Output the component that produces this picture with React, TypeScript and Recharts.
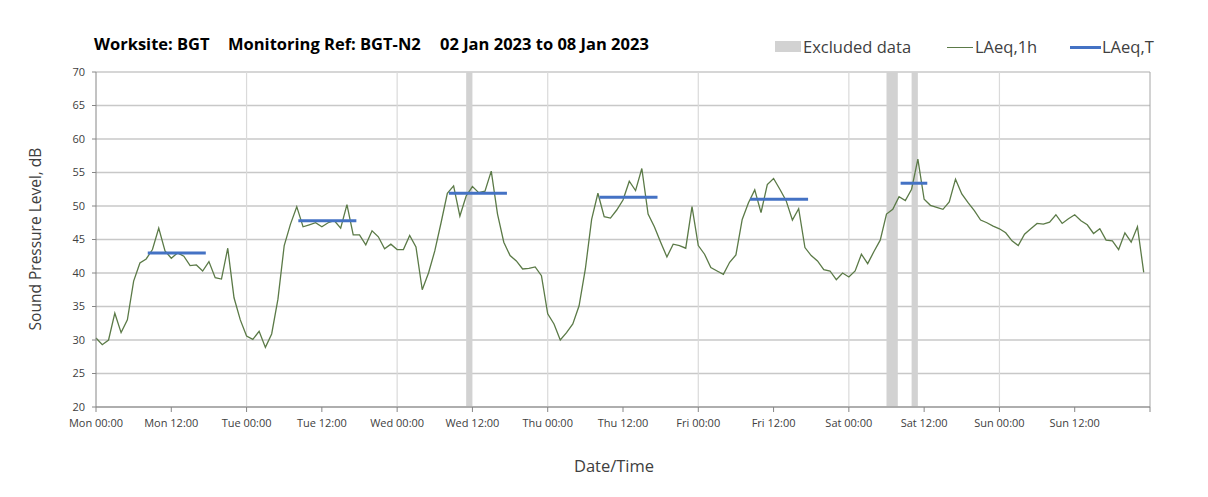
import React from 'react';
import {
  ComposedChart,
  Line,
  XAxis,
  YAxis,
  CartesianGrid,
  ReferenceLine,
  ReferenceArea,
} from 'recharts';

// Hourly LAeq,1h values, Mon 00:00 (index 0) to Sun 23:00 (index 167)
const laeq1h: number[] = [
  30.3, 29.3, 30.0, 34.0, 31.1, 33.0, 38.8, 41.5, 42.1, 43.5, 46.7, 43.3,
  42.2, 43.0, 42.5, 41.1, 41.2, 40.3, 41.7, 39.3, 39.1, 43.7, 36.3, 33.0,
  30.6, 30.1, 31.3, 28.9, 30.9, 36.1, 44.1, 47.3, 49.9, 46.9, 47.2, 47.5,
  46.9, 47.5, 47.8, 46.7, 50.2, 45.7, 45.7, 44.2, 46.3, 45.4, 43.6, 44.3,
  43.5, 43.5, 45.6, 43.9, 37.5, 40.0, 43.3, 47.5, 51.9, 53.0, 48.5, 51.5,
  52.9, 52.0, 52.2, 55.2, 48.8, 44.6, 42.6, 41.8, 40.6, 40.7, 40.9, 39.6,
  33.9, 32.4, 30.0, 31.1, 32.4, 35.1, 40.6, 48.0, 51.9, 48.4, 48.2, 49.4,
  50.9, 53.7, 52.3, 55.6, 48.8, 46.9, 44.6, 42.4, 44.3, 44.1, 43.7, 49.9,
  44.1, 42.8, 40.8, 40.3, 39.8, 41.6, 42.7, 48.0, 50.5, 52.4, 49.0, 53.2,
  54.1, 52.5, 50.8, 47.9, 49.6, 43.8, 42.6, 41.8, 40.5, 40.3, 39.0, 40.0,
  39.4, 40.3, 42.8, 41.4, 43.2, 44.9, 48.8, 49.5, 51.4, 50.8, 52.5, 57.0,
  51.0, 50.1, 49.8, 49.5, 50.6, 54.0, 51.8, 50.5, 49.3, 47.9, 47.5, 47.0,
  46.6, 46.0, 44.8, 44.1, 45.8, 46.6, 47.4, 47.3, 47.6, 48.7, 47.4, 48.1,
  48.7, 47.8, 47.2, 45.9, 46.6, 44.9, 44.8, 43.5, 46.0, 44.6, 46.9, 40.1,
];

// LAeq,T periods (hours from Mon 00:00)
const periodStart: number[] = [8.25, 32.25, 56.25, 80.25, 104.25, 128.25];
const periodEnd: number[] = [17.5, 41.5, 65.5, 89.5, 113.5, 132.5];
const periodValue: number[] = [43.0, 47.8, 51.9, 51.3, 51.0, 53.4];

// Excluded data periods (hours from Mon 00:00)
const excludedStart: number[] = [59, 126, 130];
const excludedEnd: number[] = [60, 127.8, 131];

const xTickLabels: string[] = [
  'Mon 00:00', 'Mon 12:00', 'Tue 00:00', 'Tue 12:00', 'Wed 00:00', 'Wed 12:00',
  'Thu 00:00', 'Thu 12:00', 'Fri 00:00', 'Fri 12:00', 'Sat 00:00', 'Sat 12:00',
  'Sun 00:00', 'Sun 12:00', '',
];
const yTicks: number[] = [20, 25, 30, 35, 40, 45, 50, 55, 60, 65, 70];
const dayLines: number[] = [24, 48, 72, 96, 120, 144];

const titleParts: string[] = ['Worksite: BGT', 'Monitoring Ref: BGT-N2', '02 Jan 2023 to 08 Jan 2023'];
const titleLefts: number[] = [94, 228, 440];

const lineData = laeq1h.map((v, i) => ({ t: i, v }));
const xTicks = xTickLabels.map((_, i) => i * 12);

const FONT = '"Open Sans", Lato, sans-serif';

export default function App() {
  return (
    <div
      style={{
        position: 'absolute',
        left: 0,
        top: 0,
        width: 1208,
        height: 497,
        background: '#fff',
        fontFamily: FONT,
      }}
    >
      <ComposedChart
        width={1208}
        height={497}
        margin={{ top: 72, right: 58, bottom: 60, left: 66 }}
        data={lineData}
      >
        <CartesianGrid vertical={false} stroke="#c8c8c8" strokeWidth={1.5} />
        {excludedStart.map((s, i) => (
          <ReferenceArea
            key={'ex' + i}
            x1={s}
            x2={excludedEnd[i]}
            y1={20}
            y2={70}
            fill="#d2d2d2"
            fillOpacity={1}
            stroke="none"
          />
        ))}
        {dayLines.map((d) => (
          <ReferenceLine key={'d' + d} x={d} stroke="#dadada" strokeWidth={1.2} />
        ))}
        <ReferenceLine x={168} stroke="#a6a6a6" strokeWidth={1} />
        <XAxis
          type="number"
          dataKey="t"
          domain={[0, 168]}
          ticks={xTicks}
          interval={0}
          tickFormatter={(v: number) => xTickLabels[Math.round(v / 12)] ?? ''}
          tick={{ fontSize: 11, fill: '#404040', fontFamily: FONT, dy: 5 }}
          tickSize={5}
          tickLine={{ stroke: '#868686' }}
          axisLine={{ stroke: '#868686' }}
          height={30}
        />
        <YAxis
          type="number"
          domain={[20, 70]}
          ticks={yTicks}
          interval={0}
          tick={{ fontSize: 11, fill: '#404040', fontFamily: FONT, dx: -5 }}
          tickSize={4}
          tickLine={{ stroke: '#868686' }}
          axisLine={{ stroke: '#868686' }}
          width={30}
        />
        <Line
          type="linear"
          dataKey="v"
          stroke="#5b7a47"
          strokeWidth={1.3}
          dot={false}
          activeDot={false}
          isAnimationActive={false}
        />
        {periodStart.map((s, i) => (
          <Line
            key={'p' + i}
            type="linear"
            data={[
              { t: s, v: periodValue[i] },
              { t: periodEnd[i], v: periodValue[i] },
            ]}
            dataKey="v"
            stroke="#4472c4"
            strokeWidth={3}
            dot={false}
            activeDot={false}
            isAnimationActive={false}
          />
        ))}
      </ComposedChart>

      {titleParts.map((p, i) => (
        <div
          key={'t' + i}
          style={{
            position: 'absolute',
            left: titleLefts[i],
            top: 32,
            fontSize: 16.5,
            fontWeight: 700,
            color: '#000',
            whiteSpace: 'pre',
            lineHeight: '24px',
          }}
        >
          {p}
        </div>
      ))}

      <div style={{ position: 'absolute', left: 775, top: 41, width: 26, height: 11, background: '#d2d2d2' }} />
      <div style={{ position: 'absolute', left: 803, top: 35, fontSize: 16.5, lineHeight: '24px', color: '#404040', whiteSpace: 'pre' }}>
        Excluded data
      </div>
      <div style={{ position: 'absolute', left: 947, top: 46.5, width: 26, height: 1.3, background: '#5b7a47' }} />
      <div style={{ position: 'absolute', left: 975, top: 35, fontSize: 16.5, lineHeight: '24px', color: '#404040', whiteSpace: 'pre' }}>
        LAeq,1h
      </div>
      <div style={{ position: 'absolute', left: 1070, top: 45.5, width: 31, height: 3, background: '#4472c4' }} />
      <div style={{ position: 'absolute', left: 1102, top: 35, fontSize: 16.5, lineHeight: '24px', color: '#404040', whiteSpace: 'pre' }}>
        LAeq,T
      </div>

      <div
        style={{
          position: 'absolute',
          left: 35,
          top: 239,
          fontSize: 15.5,
          color: '#404040',
          whiteSpace: 'pre',
          transform: 'translate(-50%, -50%) rotate(-90deg)',
        }}
      >
        Sound Pressure Level, dB
      </div>

      <div
        style={{
          position: 'absolute',
          left: 614,
          top: 465,
          fontSize: 16.5,
          color: '#404040',
          whiteSpace: 'pre',
          transform: 'translate(-50%, -50%)',
        }}
      >
        Date/Time
      </div>
    </div>
  );
}
